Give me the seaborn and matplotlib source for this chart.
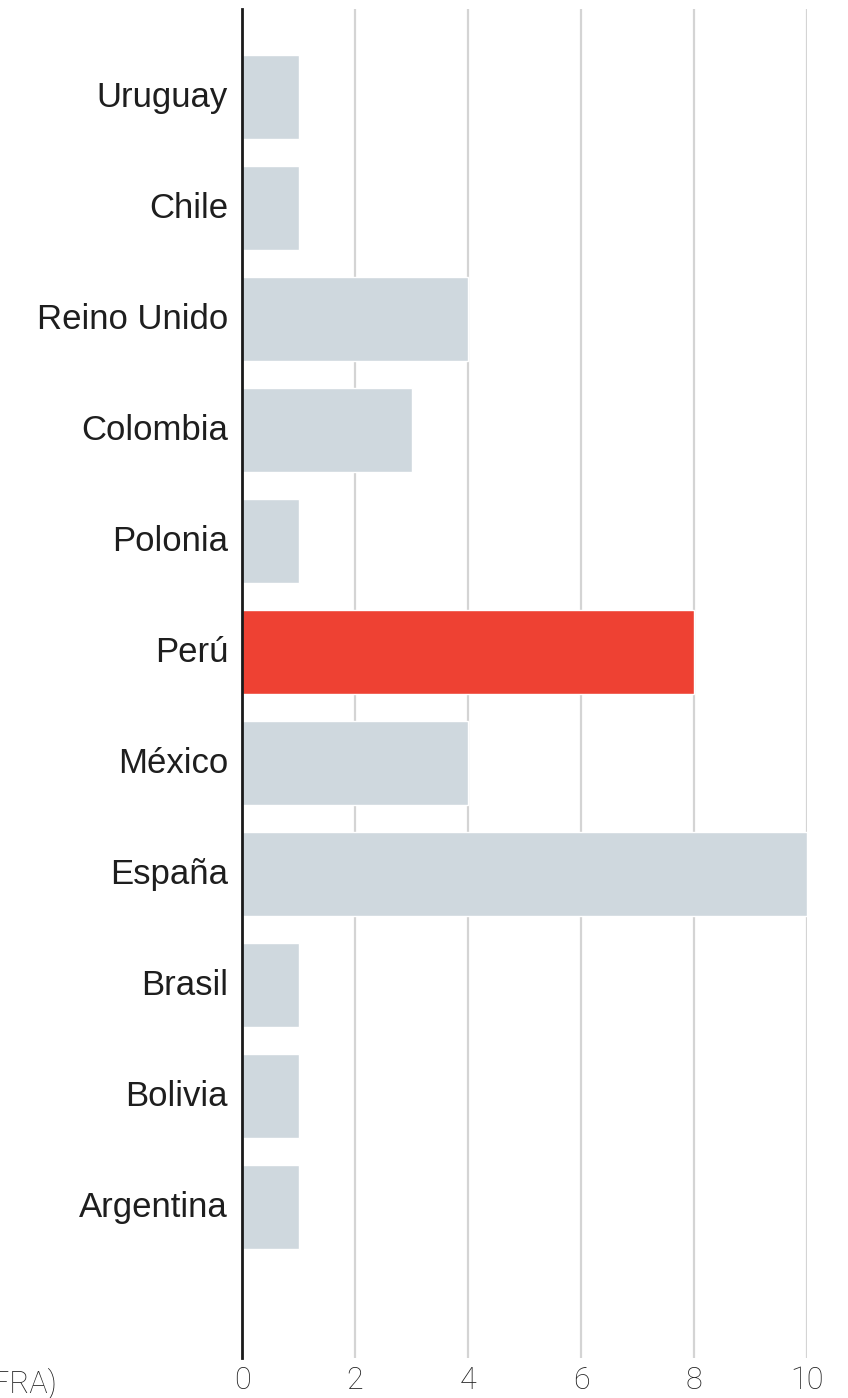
import matplotlib
matplotlib.use("Agg")
import matplotlib.pyplot as plt
import matplotlib.transforms as mtransforms
import pandas as pd
import seaborn as sns

paises = ["Uruguay", "Chile", "Reino Unido", "Colombia", "Polonia", "Perú",
          "México", "España", "Brasil", "Bolivia", "Argentina"]
valores = [1, 1, 4, 3, 1, 8, 4, 10, 1, 1, 1]
destacado = "Perú"
ticks_x = [0, 2, 4, 6, 8, 10]

sns.set_style("white")
plt.rcParams["font.family"] = ["Liberation Sans", "DejaVu Sans"]

df = pd.DataFrame({"pais": paises, "valor": valores})
df["grupo"] = ["rojo" if p == destacado else "gris" for p in df["pais"]]

fig = plt.figure(figsize=(8.48, 13.98), dpi=100)
ax = fig.add_axes([242 / 848, 1 - 1358 / 1398, (807 - 242) / 848, (1358 - 9) / 1398])

# grid under bars
for t in ticks_x[1:]:
    ax.axvline(t, color="#d4d4d4", lw=1.6, zorder=0)

sns.barplot(data=df, x="valor", y="pais", hue="grupo", orient="h",
            palette={"gris": "#cfd8de", "rojo": "#ee4133"}, width=0.756,
            legend=False, saturation=1, ax=ax, zorder=2)

ax.set_xlim(0, 10)
ax.set_ylim(11.36, -0.79)
ax.set_xticks(ticks_x)
ax.set_xticklabels([str(t) for t in ticks_x], fontsize=22, color="#222222",
                   family=["Roboto", "DejaVu Sans"], fontweight="light")
ax.tick_params(axis="x", length=0, pad=6)
ax.tick_params(axis="y", length=0, pad=10, labelsize=25, labelcolor="#1e1e1e")
# nudge country labels up a little
shift = mtransforms.ScaledTranslation(0, 3 / 100, fig.dpi_scale_trans)
for lab in ax.get_yticklabels():
    lab.set_transform(lab.get_transform() + shift)
ax.set_xlabel("")
ax.set_ylabel("")
for s in ["top", "right", "bottom"]:
    ax.spines[s].set_visible(False)
ax.spines["left"].set_color("#1a1a1a")
ax.spines["left"].set_linewidth(2)
ax.spines["left"].set_zorder(3)

fig.text(58 / 848, 1 - 1384 / 1398, "(CIFRA)", ha="right", va="center",
         fontsize=22, color="#222222", family=["Roboto", "DejaVu Sans"],
         fontweight="light")

fig.savefig("out.png", dpi=100)
